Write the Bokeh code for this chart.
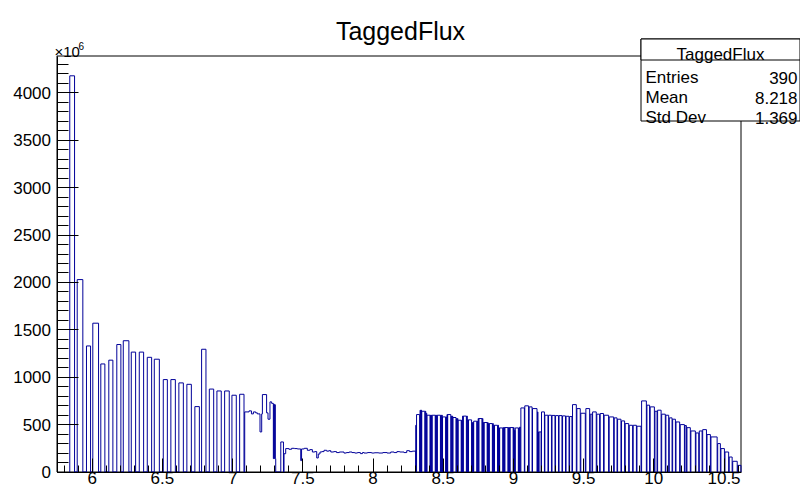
import numpy as np
from bokeh.plotting import figure
from bokeh.models import Range1d, SingleIntervalTicker, CustomJSTickFormatter, BoxAnnotation, Label
from bokeh.embed import file_html
from bokeh.resources import INLINE

# ---- Region A: separated low-energy counters (bin lo, bin hi, flux x1e6)
a_lo = [5.840, 5.893, 5.959, 6.004, 6.061, 6.118, 6.175, 6.221, 6.278, 6.335, 6.392, 6.442,
        6.506, 6.560, 6.617, 6.674, 6.731, 6.779, 6.834, 6.888, 6.943, 6.995, 7.050]
a_hi = [5.874, 5.933, 5.988, 6.045, 6.090, 6.147, 6.204, 6.261, 6.309, 6.366, 6.423, 6.478,
        6.535, 6.592, 6.649, 6.706, 6.763, 6.810, 6.865, 6.919, 6.976, 7.026, 7.081]
a_flux = [4180, 2030, 1330, 1570, 1140, 1180, 1345, 1385, 1265, 1265, 1210, 1190,
          975, 975, 940, 925, 690, 1295, 875, 855, 855, 810, 820]

# ---- Region B: 7.08 - 7.38
b_lo = [7.086, 7.117, 7.134, 7.148, 7.164, 7.176, 7.195, 7.207, 7.212, 7.242, 7.252, 7.266,
        7.278, 7.290, 7.293, 7.297, 7.300, 7.304, 7.343, 7.366]
b_hi = [7.117, 7.134, 7.148, 7.164, 7.176, 7.195, 7.207, 7.212, 7.242, 7.252, 7.266, 7.278,
        7.290, 7.293, 7.297, 7.300, 7.304, 7.307, 7.362, 7.378]
b_flux = [634, 645, 613, 634, 624, 613, 423, 613, 817, 624, 557, 740,
          724, 141, 715, 141, 710, 141, 317, 193]

# ---- Region C: low plateau 7.38 - 8.30 (contiguous bins)
c_edges = [7.378, 7.401, 7.420, 7.440, 7.461, 7.485, 7.491, 7.510, 7.532, 7.550, 7.568, 7.585,
           7.599, 7.610, 7.622, 7.635, 7.651, 7.670, 7.685, 7.699, 7.720, 7.740, 7.760, 7.793,
           7.810, 7.830, 7.850, 7.870, 7.889, 7.910, 7.925, 7.936, 7.960, 7.990, 8.010, 8.040,
           8.070, 8.100, 8.126, 8.150, 8.170, 8.190, 8.221, 8.240, 8.260, 8.280, 8.304]
c_flux = [247, 240, 250, 247, 243, 120, 243, 250, 229, 236, 211, 215,
          148, 190, 211, 215, 229, 220, 225, 211, 215, 205, 211, 200,
          205, 211, 205, 200, 205, 194, 205, 200, 205, 200, 203, 200,
          205, 200, 211, 205, 215, 211, 205, 225, 215, 220]

# ---- Region D: fine-channel section 8.30 - 9.05
d_lo = [8.3045,
        8.310, 8.335, 8.342, 8.347, 8.372, 8.379, 8.384, 8.409, 8.416, 8.421, 8.446, 8.453,
        8.458, 8.483, 8.490, 8.495, 8.520, 8.527, 8.532, 8.557, 8.564, 8.569, 8.594, 8.601,
        8.606, 8.631, 8.638, 8.643, 8.668, 8.675, 8.680, 8.705, 8.712, 8.717, 8.742, 8.749,
        8.754, 8.779, 8.786, 8.791, 8.816, 8.823, 8.828, 8.853, 8.860, 8.865, 8.890, 8.897,
        8.902, 8.927, 8.934, 8.939, 8.964, 8.971, 8.976, 9.001, 9.008, 9.013, 9.038, 9.045]
d_hi = [8.308,
        8.332, 8.3385, 8.3455, 8.369, 8.3755, 8.3825, 8.406, 8.4125, 8.4195, 8.443, 8.4495, 8.4565,
        8.480, 8.4865, 8.4935, 8.517, 8.5235, 8.5305, 8.554, 8.5605, 8.5675, 8.591, 8.5975, 8.6045,
        8.628, 8.6345, 8.6415, 8.665, 8.6715, 8.6785, 8.702, 8.7085, 8.7155, 8.739, 8.7455, 8.7525,
        8.776, 8.7825, 8.7895, 8.813, 8.8195, 8.8265, 8.850, 8.8565, 8.8635, 8.887, 8.8935, 8.9005,
        8.924, 8.9305, 8.9375, 8.961, 8.9675, 8.9745, 8.998, 9.0045, 9.0115, 9.035, 9.0415, 9.0485]
d_flux = [493,
          606, 652, 652, 641, 641, 620, 599, 599, 599, 599, 599, 599,
          599, 599, 599, 581, 581, 606, 606, 590, 590, 575, 564, 564,
          546, 546, 590, 590, 590, 550, 550, 522, 522, 536, 536, 564,
          564, 564, 522, 522, 522, 511, 511, 511, 493, 493, 493, 465,
          465, 469, 469, 469, 469, 469, 469, 469, 440, 465, 465, 475]

# ---- Region E: high-energy counters 9.05 - 10.62
e_lo = [9.053, 9.081, 9.112, 9.136, 9.172, 9.176, 9.183, 9.200, 9.224, 9.250, 9.275, 9.300,
        9.325, 9.350, 9.375, 9.400, 9.421, 9.452, 9.480, 9.516, 9.547, 9.564, 9.594, 9.618,
        9.646, 9.682, 9.718, 9.742, 9.770, 9.796, 9.825, 9.853, 9.880, 9.913, 9.951, 9.974,
        10.008, 10.027, 10.056, 10.086, 10.110, 10.134, 10.158, 10.188, 10.222, 10.236, 10.264, 10.300,
        10.324, 10.348, 10.379, 10.407, 10.455, 10.478, 10.507, 10.537, 10.562, 10.598]
e_hi = [9.078, 9.108, 9.133, 9.168, 9.1745, 9.1785, 9.197, 9.221, 9.246, 9.271, 9.296, 9.321,
        9.346, 9.371, 9.396, 9.417, 9.448, 9.476, 9.512, 9.543, 9.560, 9.590, 9.614, 9.642,
        9.678, 9.714, 9.738, 9.766, 9.792, 9.821, 9.849, 9.876, 9.909, 9.947, 9.970, 10.004,
        10.023, 10.052, 10.082, 10.106, 10.130, 10.154, 10.184, 10.218, 10.232, 10.260, 10.296, 10.320,
        10.344, 10.375, 10.403, 10.451, 10.474, 10.503, 10.533, 10.558, 10.594, 10.621]
e_flux = [676, 698, 687, 669, 634, 423, 423, 634, 599, 599, 597, 595,
          595, 592, 588, 585, 711, 669, 620, 669, 610, 634, 610, 617,
          599, 581, 571, 557, 539, 511, 493, 493, 483, 750, 705, 687,
          641, 652, 610, 599, 571, 557, 528, 500, 490, 468, 433, 412,
          433, 447, 395, 370, 300, 247, 211, 158, 113, 70]

stat_names = ["Entries", "Mean", "Std Dev"]
stat_values = ["390", "8.218", "1.369"]
hist_title = "TaggedFlux"

x_min, x_max = 5.749, 10.621
y_max = 4389

# ---- assemble bins into an outline (step) path
lo_all = list(a_lo) + list(b_lo) + c_edges[:-1] + list(d_lo) + list(e_lo)
hi_all = list(a_hi) + list(b_hi) + c_edges[1:] + list(d_hi) + list(e_hi)
fl_all = list(a_flux) + list(b_flux) + list(c_flux) + list(d_flux) + list(e_flux)
order = np.argsort(lo_all)
lo_all = np.array(lo_all)[order]
hi_all = np.array(hi_all)[order]
fl_all = np.array(fl_all)[order]

xs, ys = [], []
prev_hi = None
for lo, hi, v in zip(lo_all, hi_all, fl_all):
    if prev_hi is None or lo > prev_hi + 1e-9:
        if prev_hi is not None:
            xs.append(prev_hi); ys.append(0)
        xs.append(lo); ys.append(0)
    xs += [lo, hi]
    ys += [v, v]
    prev_hi = hi
xs.append(prev_hi); ys.append(0)

FONT = "Liberation Sans"
W, H = 800, 491
# pixel geometry of the inner frame on the canvas
FL, FR, FT, FB = 56.5, 740.5, 55.5, 471.5
sx = (FR - FL) / (x_max - x_min)
sy = (FB - FT) / y_max
xr = Range1d(x_min - FL / sx, x_max + (W - FR) / sx)
yr = Range1d(0 - (H - FB) / sy, y_max + FT / sy)

p = figure(width=W, height=H, output_backend="svg", toolbar_location=None, title=None,
           x_range=xr, y_range=yr,
           min_border_left=0, min_border_right=0, min_border_top=0, min_border_bottom=0)
p.background_fill_color = "white"
p.border_fill_color = "white"
p.outline_line_color = None
p.grid.visible = False

# inner frame
p.add_layout(BoxAnnotation(left=x_min, right=x_max, bottom=0, top=y_max, fill_color=None,
                           fill_alpha=0, line_color="black", line_alpha=1, line_width=1,
                           level="underlay"))

p.line(xs, ys, line_color="#000099", line_width=1)

xa = p.xaxis[0]
xa.fixed_location = 0
xa.bounds = (x_min, x_max)
xa.ticker = SingleIntervalTicker(interval=0.5, num_minor_ticks=5)
xa.formatter = CustomJSTickFormatter(code="return String(Number(tick.toFixed(3)));")
xa.major_tick_in = 14; xa.major_tick_out = 0
xa.minor_tick_in = 7; xa.minor_tick_out = 0
xa.major_label_standoff = 0
xa.major_label_text_font = FONT
xa.major_label_text_font_size = "17px"
xa.major_label_text_color = "black"
xa.axis_line_color = "black"
xa.major_tick_line_color = "black"
xa.minor_tick_line_color = "black"

ya = p.yaxis[0]
ya.fixed_location = x_min
ya.bounds = (0, y_max)
ya.ticker = SingleIntervalTicker(interval=500, num_minor_ticks=5)
ya.major_tick_in = 21; ya.major_tick_out = 0
ya.minor_tick_in = 11; ya.minor_tick_out = 0
ya.major_label_standoff = 6
ya.major_label_text_font = FONT
ya.major_label_text_font_size = "17px"
ya.major_label_text_color = "black"
ya.axis_line_color = "black"
ya.major_tick_line_color = "black"
ya.minor_tick_line_color = "black"

def lab(x, y, text, size, align="left", baseline="alphabetic"):
    p.add_layout(Label(x=x, y=H - y, x_units="screen", y_units="screen", text=text,
                       text_font=FONT, text_font_size=size, text_align=align,
                       text_baseline=baseline, text_color="black"))

# title
lab(400, 30, hist_title, "25px", align="center")
# exponent label
lab(54, 51, "×10", "15px")
lab(78, 45, "6", "10px")

# stats box
def sbox(top, bottom):
    p.add_layout(BoxAnnotation(left=640.5, right=799.5, top=H - top, bottom=H - bottom,
                               left_units="screen", right_units="screen", top_units="screen",
                               bottom_units="screen", fill_color="white", fill_alpha=1,
                               line_color="black", line_alpha=1, line_width=1))
sbox(38.5, 120.5)
sbox(38.5, 59.5)
lab(720, 54, hist_title, "17px", align="center")
for i, (n, v) in enumerate(zip(stat_names, stat_values)):
    yy = 77 + 20 * i
    lab(645, yy, n, "17px")
    lab(797, yy, v, "17px", align="right")

open("out.html", "w").write(file_html(p, INLINE))
